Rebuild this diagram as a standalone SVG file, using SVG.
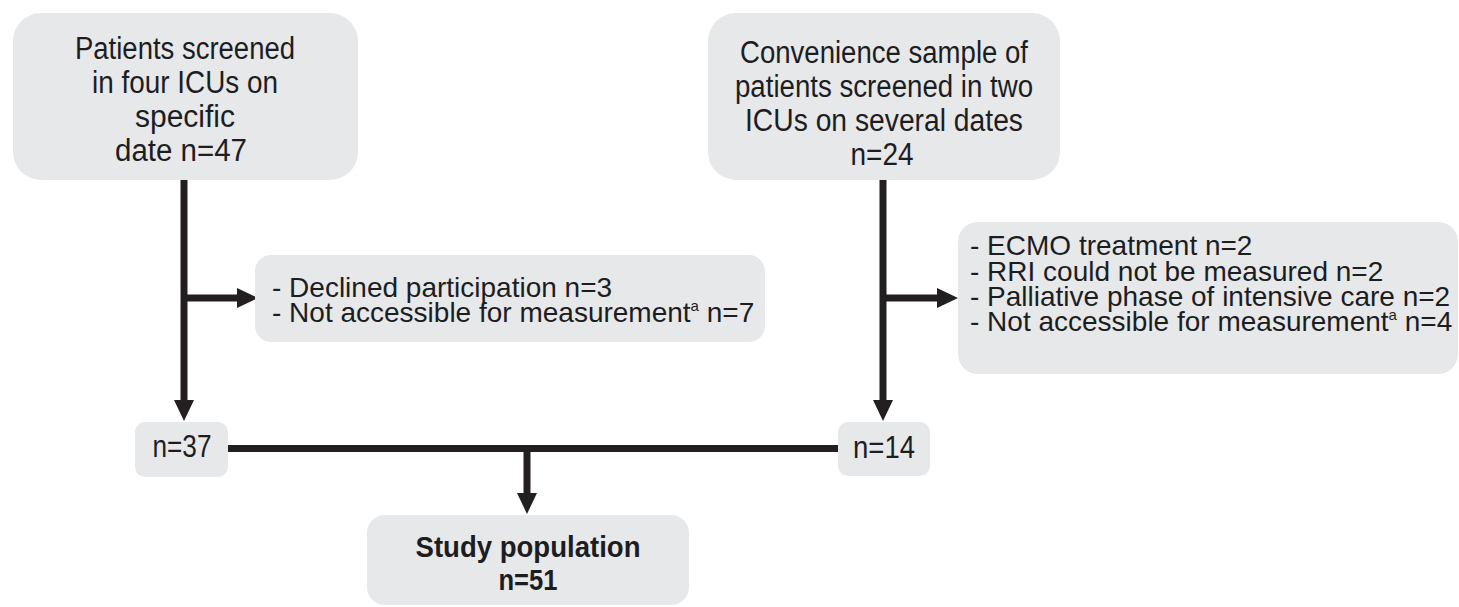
<svg xmlns="http://www.w3.org/2000/svg" width="1459" height="607" viewBox="0 0 1459 607">
  <style>
    .box { fill: #e7e8ea; stroke: none; }
    .t { font-family: "Liberation Sans", Arial, sans-serif; fill: #1d1d1f; }
    .big { font-size: 31px; }
    .mid { font-size: 28px; }
    .bold { font-weight: bold; font-size: 29px; }
    .c { text-anchor: middle; }
    .ln { stroke: #231f20; stroke-width: 7; fill: none; }
  </style>
  <defs>
    <marker id="ah" viewBox="0 0 21 20" refX="0" refY="10" markerWidth="21" markerHeight="20" markerUnits="userSpaceOnUse" orient="auto">
      <path d="M0,0 L21,10 L0,20 z" fill="#231f20"/>
    </marker>
  </defs>
  <rect width="1459" height="607" fill="#ffffff"/>

  <g id="connectors">
    <line class="ln" x1="184" y1="180" x2="184" y2="400" marker-end="url(#ah)"/>
    <line class="ln" x1="184" y1="298" x2="237" y2="298" marker-end="url(#ah)"/>
    <line class="ln" x1="883" y1="180" x2="883" y2="400" marker-end="url(#ah)"/>
    <line class="ln" x1="883" y1="298" x2="937" y2="298" marker-end="url(#ah)"/>
    <line class="ln" x1="228" y1="448.5" x2="838" y2="448.5"/>
    <line class="ln" x1="527" y1="448" x2="527" y2="493" marker-end="url(#ah)"/>
  </g>

  <g id="screen-four-icus">
    <rect class="box" x="13" y="13" width="345" height="167" rx="28"/>
    <text class="t big c" x="185" y="59" textLength="220" lengthAdjust="spacingAndGlyphs">Patients screened</text>
    <text class="t big c" x="185" y="93" textLength="186" lengthAdjust="spacingAndGlyphs">in four ICUs on</text>
    <text class="t big c" x="185" y="127" textLength="100" lengthAdjust="spacingAndGlyphs">specific</text>
    <text class="t big c" x="181" y="161" textLength="132" lengthAdjust="spacingAndGlyphs">date n=47</text>
  </g>

  <g id="screen-two-icus">
    <rect class="box" x="708" y="13" width="352" height="167" rx="28"/>
    <text class="t big c" x="884" y="63" textLength="288" lengthAdjust="spacingAndGlyphs">Convenience sample of</text>
    <text class="t big c" x="884" y="97" textLength="298" lengthAdjust="spacingAndGlyphs">patients screened in two</text>
    <text class="t big c" x="884" y="131" textLength="278" lengthAdjust="spacingAndGlyphs">ICUs on several dates</text>
    <text class="t big c" x="882" y="165" textLength="63" lengthAdjust="spacingAndGlyphs">n=24</text>
  </g>

  <g id="excluded-left">
    <rect class="box" x="255" y="255" width="510" height="87" rx="16"/>
    <text class="t mid" x="272" y="297">- Declined participation n=3</text>
    <text class="t mid" x="272" y="322">- Not accessible for measurement<tspan font-size="15" dy="-11">a</tspan><tspan dy="11"> n=7</tspan></text>
  </g>

  <g id="excluded-right">
    <rect class="box" x="958" y="222" width="500" height="152" rx="20"/>
    <text class="t mid" x="970" y="255">- ECMO treatment n=2</text>
    <text class="t mid" x="970" y="281">- RRI could not be measured n=2</text>
    <text class="t mid" x="970" y="306">- Palliative phase of intensive care n=2</text>
    <text class="t mid" x="970" y="331">- Not accessible for measurement<tspan font-size="15" dy="-11">a</tspan><tspan dy="11"> n=4</tspan></text>
  </g>

  <g id="n37">
    <rect class="box" x="135" y="422" width="93" height="55" rx="10"/>
    <text class="t big c" x="182" y="457" textLength="59" lengthAdjust="spacingAndGlyphs">n=37</text>
  </g>

  <g id="n14">
    <rect class="box" x="838" y="422" width="92" height="54" rx="10"/>
    <text class="t big c" x="884" y="458" textLength="62" lengthAdjust="spacingAndGlyphs">n=14</text>
  </g>

  <g id="study-population">
    <rect class="box" x="367" y="515" width="322" height="90" rx="18"/>
    <text class="t bold c" x="528" y="557" textLength="225" lengthAdjust="spacingAndGlyphs">Study population</text>
    <text class="t bold c" x="528" y="590" textLength="59" lengthAdjust="spacingAndGlyphs">n=51</text>
  </g>
</svg>
